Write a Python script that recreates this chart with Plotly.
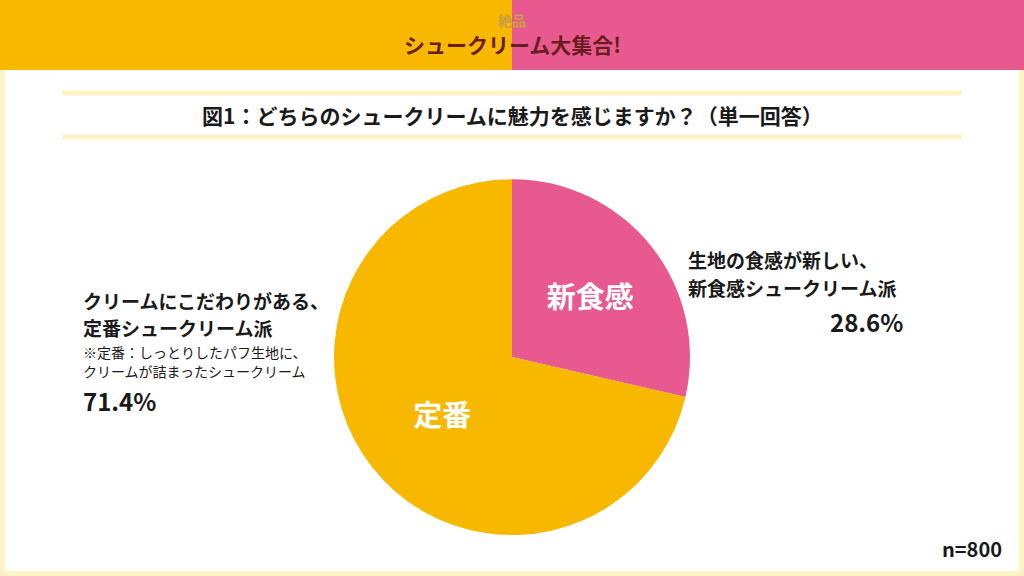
import plotly.graph_objects as go

labels = ["新食感", "定番"]
values = [28.6, 71.4]
colors = ["#E85A8F", "#F9B800"]

F = "Noto Sans CJK JP"
fig = go.Figure(go.Pie(
    labels=labels, values=values, sort=False, direction="clockwise", rotation=0,
    marker=dict(colors=colors, line=dict(width=0)),
    texttemplate="<b>%{label}</b>", textposition="inside", insidetextorientation="horizontal",
    textfont=dict(family=F, size=29, color="white"),
    domain=dict(x=[0.326, 0.674], y=[0.071, 0.689]),
    showlegend=False, hoverinfo="skip"))

cream = "#FDF3C4"
shapes = [
    dict(type="rect", xref="paper", yref="paper", x0=0, x1=1, y0=0, y1=1, line=dict(color=cream, width=10), fillcolor="rgba(0,0,0,0)", layer="below"),
    dict(type="rect", xref="paper", yref="paper", x0=0, x1=0.5, y0=1-70/576, y1=1, line=dict(width=0), fillcolor="#F9B800", layer="below"),
    dict(type="rect", xref="paper", yref="paper", x0=0.5, x1=1, y0=1-70/576, y1=1, line=dict(width=0), fillcolor="#E85A8F", layer="below"),
    dict(type="line", xref="paper", yref="paper", x0=62/1024, x1=962/1024, y0=1-93/576, y1=1-93/576, line=dict(color=cream, width=5)),
    dict(type="line", xref="paper", yref="paper", x0=62/1024, x1=962/1024, y0=1-137/576, y1=1-137/576, line=dict(color=cream, width=5)),
]

def ann(x, y, text, size, color="#1a1a1a", xanchor="left", align="left"):
    return dict(xref="paper", yref="paper", x=x/1024, y=1-y/576, text=text, showarrow=False,
                xanchor=xanchor, yanchor="middle", align=align, font=dict(family=F, size=size, color=color))

annotations = [
    ann(512, 20, "<b>絶品</b>", 14, "#C9A040", "center", "center"),
    ann(512, 44, "<b>シュークリーム大集合!</b>", 21, "#6B1E1E", "center", "center"),
    ann(512, 115, "<b>図1：どちらのシュークリームに魅力を感じますか？（単一回答）</b>", 21, "#1a1a1a", "center", "center"),
    ann(81, 300, "<b>クリームにこだわりがある、</b>", 19),
    ann(81, 327, "<b>定番シュークリーム派</b>", 19),
    ann(81, 352, "※定番：しっとりしたパフ生地に、", 14),
    ann(81, 371, "クリームが詰まったシュークリーム", 14),
    ann(81, 400, "<b>71.4%</b>", 24),
    ann(686, 259, "<b>生地の食感が新しい、</b>", 19),
    ann(686, 287, "<b>新食感シュークリーム派</b>", 19),
    ann(905, 321, "<b>28.6%</b>", 24, xanchor="right"),
    ann(1004, 548, "<b>n=800</b>", 20, xanchor="right"),
]

fig.update_layout(width=1024, height=576, margin=dict(l=0, r=0, t=0, b=0),
                  paper_bgcolor="white", plot_bgcolor="white",
                  shapes=shapes, annotations=annotations)
fig.write_html("out.html", config={"displayModeBar": False},
               post_script="document.body.style.margin='0';document.body.style.overflow='hidden';")
